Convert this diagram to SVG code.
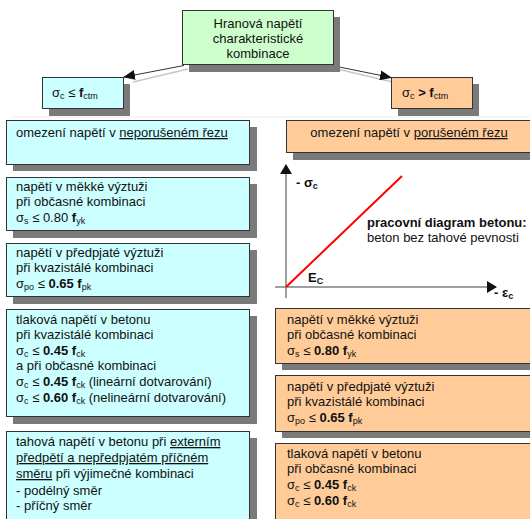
<svg xmlns="http://www.w3.org/2000/svg" width="530" height="519" viewBox="0 0 530 519">
<defs>
<style>
.t{font-family:"Liberation Sans",Arial,sans-serif;font-size:13px;fill:#111}
.b{font-weight:bold}
.s{font-size:9px}
.u{text-decoration:underline}
.box{stroke:#333;stroke-width:1}
.cy{fill:#ccffff}
.or{fill:#ffcc99}
.gr{fill:#ccffcc}
.conn{stroke:#333;stroke-width:1;fill:none}
.connsh{stroke:#c8c8c8;stroke-width:1.5;fill:none}
.ax{stroke:#7f7f7f;stroke-width:1.5;fill:none}
</style>
<marker id="ah" markerWidth="12" markerHeight="10" refX="11" refY="5" orient="auto" markerUnits="userSpaceOnUse"><path d="M0,0 L12,5 L0,10 Z" fill="#111"/></marker>
<marker id="axh" markerWidth="10" markerHeight="12" refX="9" refY="6" orient="auto" markerUnits="userSpaceOnUse"><path d="M0,0 L10,6 L0,12 Z" fill="#111"/></marker>
</defs>
<rect x="0" y="0" width="530" height="519" fill="#ffffff"/>
<line x1="10" y1="117" x2="530" y2="117" stroke="#ececec" stroke-width="1"/>

<g id="connectors">
<line class="connsh" x1="188" y1="69" x2="133" y2="82"/>
<line class="connsh" x1="337" y1="69" x2="397" y2="83"/>
<line class="conn" x1="184" y1="65.5" x2="124" y2="77" marker-end="url(#ah)"/>
<line class="conn" x1="332" y1="65.5" x2="391" y2="77.5" marker-end="url(#ah)"/>
</g>

<g id="root">
<path d="M334,17 H340 V72 H189 V65 H334 Z" fill="#7a7a7a" stroke="none"/>
<rect class="box gr" x="182.5" y="10.5" width="151" height="54"/>
<text class="t" text-anchor="middle"><tspan x="258" y="28">Hranová napětí</tspan><tspan x="258" y="43">charakteristické</tspan><tspan x="258" y="58">kombinace</tspan></text>
</g>

<g id="cond-left">
<path d="M124,84 H130 V116 H49 V109 H124 Z" fill="#7a7a7a" stroke="none"/>
<rect class="box cy" x="42.5" y="77.5" width="81" height="31"/>
<text class="t" x="52" y="97">σ<tspan class="s" dy="2">c</tspan><tspan dy="-2"> ≤ </tspan><tspan class="b">f</tspan><tspan class="s" dy="2">ctm</tspan></text>
</g>

<g id="cond-right">
<path d="M473,84 H479 V116 H398 V109 H473 Z" fill="#7a7a7a" stroke="none"/>
<rect class="box or" x="391.5" y="77.5" width="81" height="31"/>
<text class="t" x="402" y="97">σ<tspan class="s" dy="2">c</tspan><tspan class="b" dy="-2"> &gt; f</tspan><tspan class="s" dy="2">ctm</tspan></text>
</g>

<g id="left-1">
<path d="M250,127 H257 V171 H13 V165 H250 Z" fill="#7a7a7a" stroke="none"/>
<rect class="box cy" x="6.5" y="120.5" width="243" height="44"/>
<text class="t" x="16" y="137">omezení napětí v <tspan class="u">neporušeném řezu</tspan></text>
</g>

<g id="left-2">
<path d="M250,184 H257 V238 H13 V231 H250 Z" fill="#7a7a7a" stroke="none"/>
<rect class="box cy" x="6.5" y="177.5" width="243" height="53"/>
<text class="t"><tspan x="16" y="191">napětí v měkké výztuži</tspan><tspan x="16" y="206">při občasné kombinaci</tspan><tspan x="16" y="222">σ<tspan class="s" dy="2">s</tspan><tspan dy="-2"> ≤ 0.80 </tspan><tspan class="b">f</tspan><tspan class="s" dy="2">yk</tspan></tspan></text>
</g>

<g id="left-3">
<path d="M250,250 H257 V304 H13 V297 H250 Z" fill="#7a7a7a" stroke="none"/>
<rect class="box cy" x="6.5" y="243.5" width="243" height="53"/>
<text class="t"><tspan x="16" y="257">napětí v předpjaté výztuži</tspan><tspan x="16" y="272">při kvazistálé kombinaci</tspan><tspan x="16" y="288">σ<tspan class="s" dy="2">po</tspan><tspan dy="-2"> ≤ </tspan><tspan class="b">0.65 f</tspan><tspan class="s" dy="2">pk</tspan></tspan></text>
</g>

<g id="left-4">
<path d="M250,316 H257 V424 H13 V417 H250 Z" fill="#7a7a7a" stroke="none"/>
<rect class="box cy" x="6.5" y="309.5" width="243" height="107"/>
<text class="t"><tspan x="16" y="324">tlaková napětí v betonu</tspan><tspan x="16" y="339">při kvazistálé kombinaci</tspan><tspan x="16" y="355">σ<tspan class="s" dy="2">c</tspan><tspan dy="-2"> ≤ </tspan><tspan class="b">0.45 f</tspan><tspan class="s" dy="2">ck</tspan></tspan><tspan x="16" y="370">a při občasné kombinaci</tspan><tspan x="16" y="386">σ<tspan class="s" dy="2">c</tspan><tspan dy="-2"> ≤ </tspan><tspan class="b">0.45 f</tspan><tspan class="s" dy="2">ck</tspan><tspan dy="-2"> (lineární dotvarování)</tspan></tspan><tspan x="16" y="402">σ<tspan class="s" dy="2">c</tspan><tspan dy="-2"> ≤ </tspan><tspan class="b">0.60 f</tspan><tspan class="s" dy="2">ck</tspan><tspan dy="-2"> (nelineární dotvarování)</tspan></tspan></text>
</g>

<g id="left-5">
<path d="M250,438 H257 V519 H250 Z" fill="#7a7a7a" stroke="none"/>
<rect class="box cy" x="6.5" y="431.5" width="243" height="95"/>
<text class="t"><tspan x="16" y="446">tahová napětí v betonu při <tspan class="u">externím</tspan></tspan><tspan x="16" y="462" class="u">předpětí a nepředpjatém příčném</tspan><tspan x="16" y="478"><tspan class="u">směru</tspan> při výjimečné kombinaci</tspan><tspan x="16" y="495">- podélný směr</tspan><tspan x="16" y="510">- příčný směr</tspan></text>
</g>

<g id="right-1">
<path d="M293,153 H530 V160 H293 Z" fill="#7a7a7a" stroke="none"/>
<rect class="box or" x="286.5" y="120.5" width="260" height="32"/>
<text class="t" x="409" y="137" text-anchor="middle">omezení napětí v <tspan class="u">porušeném řezu</tspan></text>
</g>

<g id="chart">
<line class="ax" x1="286" y1="298" x2="286" y2="165" marker-end="url(#axh)"/>
<line class="ax" x1="275" y1="287" x2="496" y2="287" marker-end="url(#axh)"/>
<line x1="286" y1="287" x2="402" y2="176" stroke="#ff0000" stroke-width="2"/>
<text class="t b" x="296" y="187">- σ<tspan class="s" dy="2">c</tspan></text>
<text class="t b" x="367" y="227">pracovní diagram betonu:</text>
<text class="t" x="367" y="242">beton bez tahové pevnosti</text>
<text class="t b" x="308" y="282">E<tspan class="s" dy="2">C</tspan></text>
<text class="t b" x="494" y="297">- ε<tspan class="s" dy="2">c</tspan></text>
</g>

<g id="right-2">
<path d="M282,364 H530 V370 H282 Z" fill="#7a7a7a" stroke="none"/>
<rect class="box or" x="275.5" y="308.5" width="270" height="55"/>
<text class="t"><tspan x="287" y="324">napětí v měkké výztuži</tspan><tspan x="287" y="339">při občasné kombinaci</tspan><tspan x="287" y="355">σ<tspan class="s" dy="2">s</tspan><tspan dy="-2"> ≤ </tspan><tspan class="b">0.80 f</tspan><tspan class="s" dy="2">yk</tspan></tspan></text>
</g>

<g id="right-3">
<path d="M282,432 H530 V438 H282 Z" fill="#7a7a7a" stroke="none"/>
<rect class="box or" x="275.5" y="375.5" width="270" height="56"/>
<text class="t"><tspan x="287" y="391">napětí v předpjaté výztuži</tspan><tspan x="287" y="406">při kvazistálé kombinaci</tspan><tspan x="287" y="422">σ<tspan class="s" dy="2">po</tspan><tspan dy="-2"> ≤ </tspan><tspan class="b">0.65 f</tspan><tspan class="s" dy="2">pk</tspan></tspan></text>
</g>

<g id="right-4">
<rect class="box or" x="275.5" y="443.5" width="270" height="80"/>
<text class="t"><tspan x="287" y="458">tlaková napětí v betonu</tspan><tspan x="287" y="473">při občasné kombinaci</tspan><tspan x="287" y="489">σ<tspan class="s" dy="2">c</tspan><tspan dy="-2"> ≤ </tspan><tspan class="b">0.45 f</tspan><tspan class="s" dy="2">ck</tspan></tspan><tspan x="287" y="505">σ<tspan class="s" dy="2">c</tspan><tspan dy="-2"> ≤ </tspan><tspan class="b">0.60 f</tspan><tspan class="s" dy="2">ck</tspan></tspan></text>
</g>
</svg>
